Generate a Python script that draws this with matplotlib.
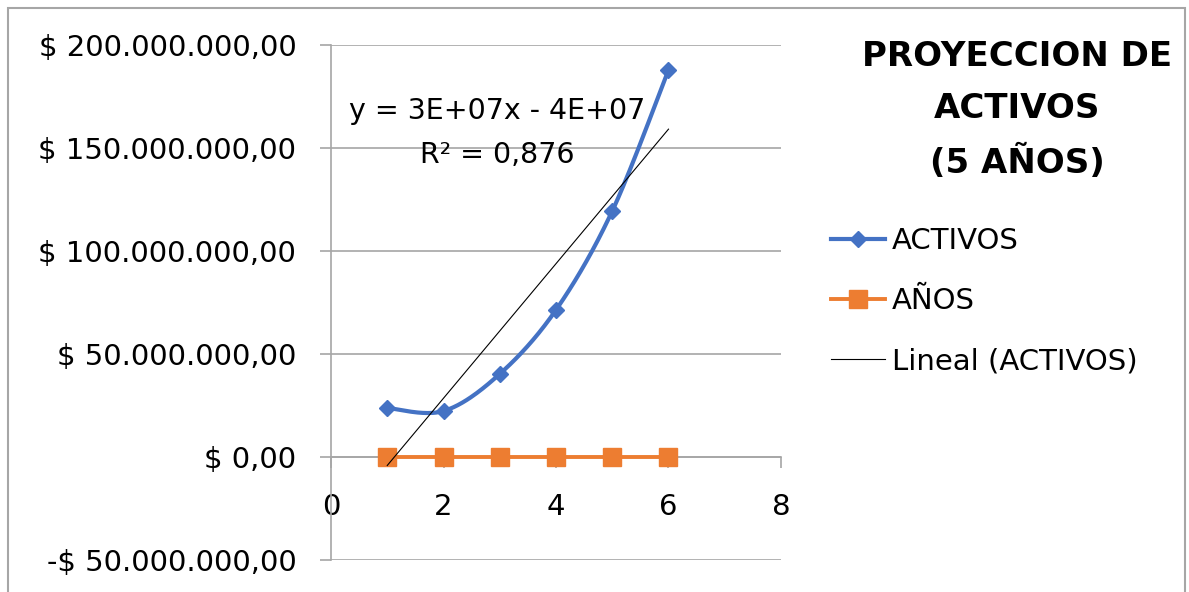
import numpy as np
import matplotlib
matplotlib.use("Agg")
import matplotlib.pyplot as plt
from matplotlib.lines import Line2D
from matplotlib.patches import Rectangle
from matplotlib.ticker import FuncFormatter

# ---- data ----
years = [1, 2, 3, 4, 5, 6]
activos = [23.8e6, 22.3e6, 40.3e6, 71.4e6, 119.4e6, 187.9e6]
anos = [1, 2, 3, 4, 5, 6]
title_text = "PROYECCION DE\nACTIVOS\n(5 AÑOS)"
eq_text = "y = 3E+07x - 4E+07"
r2_text = "R² = 0,876"
x_ticks = [0, 2, 4, 6, 8]
y_ticks = [-50e6, 0, 50e6, 100e6, 150e6, 200e6]

BLUE = "#4472C4"
ORANGE = "#ED7D31"
GRID = "#A6A6A6"
FONT = "DejaVu Sans"

plt.rcParams['font.family'] = [FONT]

def catmull(xs, ys, n=40):
    xs = np.asarray(xs, float); ys = np.asarray(ys, float)
    P = np.column_stack([xs, ys])
    out = []
    for i in range(len(P) - 1):
        p0 = P[i - 1] if i > 0 else P[i]
        p1 = P[i]
        p2 = P[i + 1]
        p3 = P[i + 2] if i + 2 < len(P) else P[i + 1]
        c1 = p1 + (p2 - p0) / 6
        c2 = p2 - (p3 - p1) / 6
        t = np.linspace(0, 1, n)[:, None]
        seg = ((1 - t) ** 3) * p1 + 3 * ((1 - t) ** 2) * t * c1 + 3 * (1 - t) * t ** 2 * c2 + t ** 3 * p2
        out.append(seg if i == 0 else seg[1:])
    s = np.vstack(out)
    return s[:, 0], s[:, 1]

fig = plt.figure(figsize=(11.89, 5.92), dpi=100)
ax = fig.add_axes([331 / 1189, 1 - 560 / 592, (781 - 331) / 1189, (560 - 45) / 592])

# chart border
fig.patches.append(Rectangle((8 / 1189, -0.2), (1185 - 8) / 1189, 1.2 - 8 / 592,
                             transform=fig.transFigure, fill=False,
                             edgecolor=GRID, lw=1.5))

ax.set_xlim(0, 8)
ax.set_ylim(-50e6, 200e6)
ax.set_xticks(x_ticks)
ax.set_yticks(y_ticks)

def money(v, pos):
    s = f"{abs(v):,.2f}".replace(",", "X").replace(".", ",").replace("X", ".")
    return ("-$ " if v < 0 else "$ ") + s

ax.yaxis.set_major_formatter(FuncFormatter(money))
ax.grid(axis='y', color=GRID, lw=1.2)
ax.set_axisbelow(True)
for s in ['top', 'right']:
    ax.spines[s].set_visible(False)
ax.spines['bottom'].set_position(('data', 0))
ax.spines['bottom'].set_color(GRID)
ax.spines['bottom'].set_linewidth(1.2)
ax.spines['left'].set_color(GRID)
ax.spines['left'].set_linewidth(1.2)
ax.tick_params(axis='y', length=8, width=1.2, color=GRID, labelsize=21, pad=17)
ax.tick_params(axis='x', length=8, width=1.2, color=GRID, labelsize=21, pad=18, direction='out')

# series
sx, sy = catmull(years, activos)
ax.plot(sx, sy, color=BLUE, lw=3.0, zorder=3, solid_capstyle='round')
ax.plot(years, activos, ls='none', marker='D', ms=8.5, color=BLUE, zorder=4)
ax.plot(years, anos, color=ORANGE, lw=2.8, marker='s', ms=12.5, zorder=4)

# trendline
m, b = np.polyfit(years, activos, 1)
tx = np.array([years[0], years[-1]])
ax.plot(tx, m * tx + b, color='black', lw=0.8, zorder=5)

ax.text(2.95, 168e6, eq_text, ha='center', va='center', fontsize=20.5, zorder=6)
ax.text(2.95, 146.5e6, r2_text, ha='center', va='center', fontsize=20.5, zorder=6)

fig.text(1017 / 1189, 1 - 110 / 592, title_text, ha='center', va='center',
         fontsize=24.5, fontweight='bold', linespacing=1.7)

handles = [
    Line2D([], [], color=BLUE, lw=3.0, marker='D', ms=8.5),
    Line2D([], [], color=ORANGE, lw=2.8, marker='s', ms=12.5),
    Line2D([], [], color='black', lw=0.8),
]
labels = ["ACTIVOS", "AÑOS", "Lineal (ACTIVOS)"]
fig.legend(handles, labels, loc='upper left', bbox_to_anchor=(831 / 1189, 1 - 227 / 592),
           frameon=False, fontsize=21, handlelength=1.85, handletextpad=0.25,
           labelspacing=1.1, borderaxespad=0, borderpad=0)

fig.savefig("out.png", dpi=100)
